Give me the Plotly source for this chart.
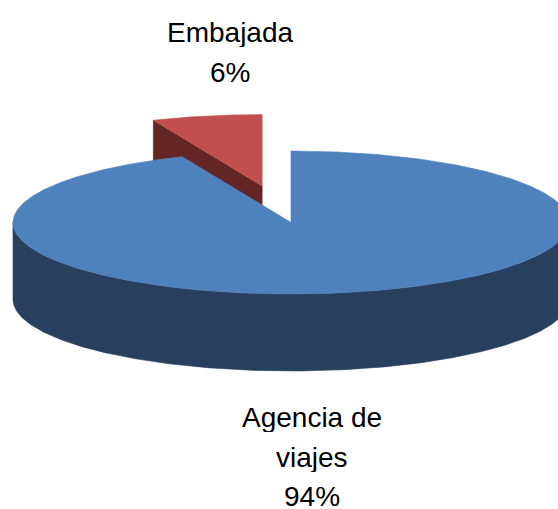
import textwrap
import numpy as np
import plotly.graph_objects as go

# ---- data ----
categories = ["Agencia de viajes", "Embajada"]
values = [93.6, 6.4]

# ---- layout / style constants ----
W, H = 558, 509
CX, CY, RX, RY, DEPTH = 291, 222.5, 278, 71.5, 77
START_ANGLE = 90.0              # first slice starts at 12 o'clock, clockwise
PULL = {"Embajada": 0.52}
TOP_COLORS = {"Agencia de viajes": "#4F81BD", "Embajada": "#C0504D"}
SIDE_COLORS = {"Agencia de viajes": "#283F5E", "Embajada": "#632624"}
LABEL_POS = {"Agencia de viajes": (312, 417), "Embajada": (230, 32)}
LINE_PITCH = {"Agencia de viajes": 39.5, "Embajada": 40}
LINE_BOX = 30
FONT = dict(family="Liberation Sans, Arial, sans-serif", size=28, color="black")


def rim_pts(cx, cy, t0, t1, dy=0.0, n=None):
    if n is None:
        n = max(2, int(abs(t1 - t0) * 2) + 1)
    t = np.radians(np.linspace(t0, t1, n))
    return cx + RX * np.cos(t), cy - RY * np.sin(t) + dy


fig = go.Figure()
total = float(sum(values))
slices = []
a = START_ANGLE
for cat, v in zip(categories, values):
    frac = v / total
    a_start, a_end = a, a - frac * 360.0   # clockwise
    a = a_end
    mid = 0.5 * (a_start + a_end)
    k = PULL.get(cat, 0.0)
    cx = CX + k * RX * np.cos(np.radians(mid))
    cy = CY - k * RY * np.sin(np.radians(mid))
    slices.append(dict(cat=cat, frac=frac, a0=a_start, a1=a_end, mid=mid, cx=cx, cy=cy))

# back-to-front ordering
slices.sort(key=lambda s: -np.sin(np.radians(s["mid"])))


def add_poly(xs, ys, color):
    fig.add_trace(go.Scatter(x=list(xs) + [xs[0]], y=list(ys) + [ys[0]], mode="lines",
                             fill="toself", fillcolor=color, line=dict(width=0.6, color=color),
                             hoverinfo="skip", showlegend=False))


for s in slices:
    cx, cy = s["cx"], s["cy"]
    lo, hi = s["a1"], s["a0"]
    side = SIDE_COLORS[s["cat"]]
    # radial faces
    for edge, visible in ((s["a0"], np.cos(np.radians(s["a0"])) < -1e-6),
                          (s["a1"], np.cos(np.radians(s["a1"])) > 1e-6)):
        if visible:
            px = cx + RX * np.cos(np.radians(edge))
            py = cy - RY * np.sin(np.radians(edge))
            add_poly([cx, px, px, cx], [cy, py, py + DEPTH, cy + DEPTH], side)
    # outer rim (front half only)
    for kk in range(-2, 3):
        f0, f1 = -180 + 360 * kk, 0 + 360 * kk
        a0, a1 = max(lo, f0), min(hi, f1)
        if a1 > a0:
            tx, ty = rim_pts(cx, cy, a0, a1)
            bx, by = rim_pts(cx, cy, a1, a0, dy=DEPTH)
            add_poly(np.concatenate([tx, bx]), np.concatenate([ty, by]), side)
    # top face
    tx, ty = rim_pts(cx, cy, s["a0"], s["a1"])
    add_poly(np.concatenate([[cx], tx]), np.concatenate([[cy], ty]), TOP_COLORS[s["cat"]])

# labels
annotations = []
for cat, v in zip(categories, values):
    pct = round(100.0 * v / total)
    lines = textwrap.wrap(cat, 10) + [f"{pct}%"]
    x0, y0 = LABEL_POS[cat]
    for i, line in enumerate(lines):
        annotations.append(dict(x=x0, y=y0 + i * LINE_PITCH[cat], xref="x", yref="y", text=line,
                                showarrow=False, xanchor="center", yanchor="middle",
                                height=LINE_BOX, valign="middle", font=FONT))

fig.update_layout(
    width=W, height=H, margin=dict(l=0, r=0, t=0, b=0),
    paper_bgcolor="white", plot_bgcolor="white",
    xaxis=dict(range=[0, W], visible=False, fixedrange=True),
    yaxis=dict(range=[H, 0], visible=False, fixedrange=True),
    annotations=annotations, showlegend=False,
)
fig.write_html(
    "out.html",
    config={"displayModeBar": False},
    post_script="document.body.style.margin='0px';document.body.style.overflow='hidden';",
)
